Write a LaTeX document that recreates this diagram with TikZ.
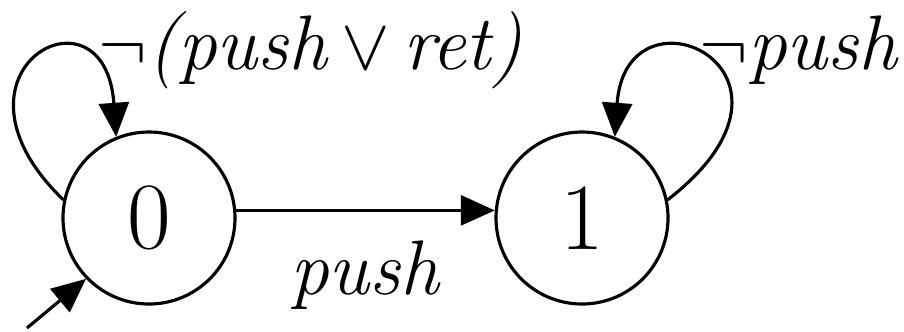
\documentclass[tikz,border=0pt]{standalone}
\usepackage{amsmath,amssymb}
\usetikzlibrary{arrows.meta,positioning}

\begin{document}
\begin{tikzpicture}[
    line width=0.9pt,
    >={Triangle[length=3.4mm,width=3mm]},
    font=\fontsize{22}{27}\selectfont,
    state/.style={draw, circle, minimum size=17.2mm, inner sep=0pt, font=\fontsize{27}{32}\selectfont},
    lbl/.style={inner sep=0pt, anchor=base west}
]
    \useasboundingbox (0,0) rectangle (9.04,3.31);
    \node[state] (s0) at (1.49,1.13) {0};
    \node[state] (s1) at (5.82,1.13) {1};
    \coordinate (init) at (0.27,0.03);
    \draw[->] (init) -- (s0.224);
    \draw[->] (s0.5) -- node[below=5pt] (lpush) {\textit{push}} (s1.175);
    \draw[->] (s0.168) .. controls (-0.7,2.6) and (1.05,3.55) .. (s0.112);
    \draw[->] (s1.12) .. controls (8.34,2.6) and (6.26,3.55) .. (s1.68);
    \node[lbl] (l0) at (0.97,2.62) {$\neg$\textit{(push}\,$\vee$\,\textit{ret)}};
    \node[lbl] (l1) at (6.98,2.62) {$\neg$\textit{push}};
\end{tikzpicture}
\end{document}
